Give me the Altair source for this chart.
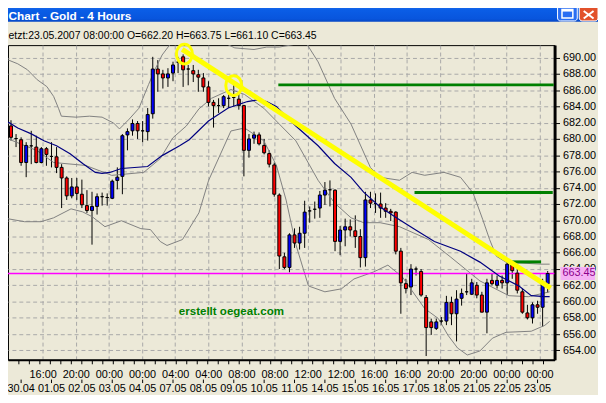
import altair as alt
import pandas as pd

# ---------------- data ----------------
opens = [681.6, 680.05, 679.9, 677.1, 679.15, 679.0, 677.1, 678.8, 677.85, 677.8,
         676.5, 675.2, 673.0, 674.1, 673.2, 671.8, 671.2, 671.7, 672.9, 672.8,
         672.7, 674.9, 675.4, 680.5, 681.0, 681.9, 681.0, 680.9, 683.1, 688.6,
         688.0, 687.5, 688.1, 689.45, 690.1, 688.6, 688.4, 687.9, 687.5, 686.4,
         684.5, 684.1, 684.1, 685.0, 685.1, 684.9, 684.1, 678.6, 680.1, 680.5,
         679.2, 678.2, 676.8, 673.1, 665.5, 664.2, 668.2, 667.2, 668.4, 671.15,
         671.35, 671.5, 673.1, 673.75, 673.7, 667.4, 668.8, 669.2, 668.7, 668.0,
         665.4, 672.5, 672.05, 672.0, 671.5, 671.1, 671.0, 666.2, 662.2, 661.8,
         664.0, 663.7, 660.5, 657.5, 656.7, 657.6, 657.6, 659.9, 658.5, 660.4,
         661.2, 660.9, 662.0, 660.8, 658.7, 662.6, 662.0, 662.6, 662.3, 664.5,
         663.5, 661.2, 658.6, 658.0, 659.6, 659.3, 662.2]
closes = [680.2, 680.05, 677.1, 679.2, 679.15, 677.1, 678.8, 678.1, 677.85, 676.5,
          675.2, 673.0, 674.1, 673.3, 671.9, 671.2, 671.7, 672.9, 672.9, 672.8,
          674.8, 675.3, 680.4, 680.9, 681.9, 681.0, 681.0, 683.0, 688.6, 688.0,
          687.5, 688.0, 689.1, 689.45, 688.5, 688.6, 688.0, 687.6, 686.4, 684.5,
          684.1, 684.1, 685.2, 685.0, 685.1, 684.1, 678.6, 680.0, 680.5, 679.4,
          678.3, 676.9, 673.2, 665.6, 664.2, 668.2, 667.2, 668.4, 671.0, 671.15,
          671.35, 673.1, 673.7, 673.75, 667.4, 668.8, 669.2, 668.8, 668.0, 665.4,
          672.5, 672.1, 672.05, 671.5, 671.1, 670.9, 666.2, 662.3, 661.6, 664.0,
          664.0, 660.8, 656.8, 656.8, 657.5, 657.6, 659.9, 658.5, 660.3, 661.0,
          661.2, 662.3, 660.8, 658.7, 662.3, 662.2, 662.6, 662.3, 664.6, 663.8,
          661.4, 658.7, 658.0, 659.6, 659.3, 662.4, 663.45]
highs = [682.3, 680.6, 680.2, 679.6, 681.0, 680.4, 679.0, 679.0, 679.6, 679.0,
         676.9, 675.4, 675.2, 675.2, 675.0, 673.7, 673.5, 673.3, 673.4, 673.3,
         675.0, 676.5, 680.6, 681.3, 682.4, 682.2, 682.2, 683.8, 690.1, 689.7,
         688.5, 688.7, 689.5, 690.1, 690.4, 689.1, 689.1, 688.5, 688.1, 687.1,
         684.8, 685.0, 685.4, 685.8, 686.6, 685.6, 684.2, 680.6, 680.9, 680.8,
         680.0, 678.6, 677.1, 673.3, 666.0, 668.4, 669.0, 669.2, 672.4, 671.7,
         672.3, 673.6, 674.7, 674.9, 673.8, 669.3, 670.2, 670.1, 670.6, 668.9,
         673.5, 673.5, 673.3, 673.4, 672.1, 671.4, 671.1, 666.6, 662.8, 664.6,
         664.3, 664.0, 660.8, 657.9, 657.9, 658.1, 660.7, 660.6, 661.4, 661.6,
         663.4, 662.8, 662.4, 661.2, 662.8, 663.4, 663.2, 663.2, 665.0, 664.8,
         664.0, 661.6, 659.6, 659.9, 660.1, 662.8, 663.75]
lows = [679.8, 679.0, 676.7, 675.3, 676.9, 677.0, 677.0, 676.7, 676.5, 675.8,
        671.5, 672.5, 672.7, 672.5, 671.5, 670.9, 667.0, 670.7, 671.8, 671.8,
        672.6, 673.8, 673.2, 678.6, 680.4, 680.0, 679.6, 679.8, 682.5, 685.8,
        686.2, 686.4, 687.1, 688.1, 686.4, 686.6, 687.0, 685.8, 685.8, 684.0,
        681.4, 683.2, 683.8, 683.8, 684.0, 683.6, 675.4, 677.7, 679.4, 679.2,
        678.1, 676.5, 672.9, 664.0, 664.0, 663.6, 666.6, 666.4, 666.6, 669.7,
        670.2, 670.3, 671.9, 671.7, 666.2, 665.7, 666.8, 668.0, 666.6, 664.2,
        664.3, 671.5, 670.9, 670.3, 670.3, 669.9, 665.8, 658.5, 661.0, 660.8,
        663.2, 660.6, 653.3, 655.9, 656.5, 657.1, 657.1, 657.1, 655.1, 659.5,
        660.8, 660.8, 660.4, 658.7, 656.1, 662.0, 661.6, 661.6, 660.8, 662.8,
        661.0, 658.5, 657.8, 657.3, 658.5, 656.9, 661.1]

# moving average (blue) read at sample bars
ma_i = [-0.57, 1.34, 4.02, 6.51, 8.99, 11.67, 14.16, 16.65, 17.99, 19.52, 21.81, 26.98,
        29.85, 33.3, 35.2, 39.0, 42.9, 46.7, 48.6, 50.5, 52.4, 54.3, 56.26, 60.66, 63.91,
        67.16, 69.65, 72.9, 76.73, 79.79, 83.62, 88.79, 92.61, 96.44, 100.27, 102.76,
        105.44, 106.39]
ma_v = [682.08, 681.35, 680.62, 679.77, 679.16, 678.19, 676.97, 675.88, 675.76, 675.88,
        676.37, 676.61, 677.95, 679.16, 679.9, 682.2, 683.8, 684.6, 684.8, 684.6, 684.0,
        682.8, 681.59, 679.16, 676.98, 675.28, 673.46, 671.64, 670.06, 668.85, 667.39,
        666.18, 664.85, 663.15, 661.93, 660.72, 660.6, 660.6]

# Bollinger bands (gray) read at sample bars
up_i = [-0.57, 1.34, 3.25, 5.17, 7.08, 8.42, 9.38, 9.95, 12.82, 15.5, 17.99, 20.28, 21.43,
        23.35, 25.26, 27.17, 28.51, 29.85, 31.76, 34.0, 37.0, 40.0, 42.5, 44.2, 48.0, 50.5,
        53.0, 55.7, 58.2, 60.66, 63.91, 67.16, 70.99, 72.9, 76.73, 79.22, 81.71, 85.53,
        88.79, 91.27, 93.19, 94.53, 95.87, 97.78, 104.67, 106.39]
up_v = [689.72, 689.24, 688.51, 687.29, 686.44, 685.23, 683.77, 682.80, 682.68, 682.80,
        682.68, 681.95, 681.23, 682.44, 683.77, 686.69, 688.63, 690.33, 691.91, 694.0,
        694.5, 693.0, 691.7, 691.2, 691.0, 691.3, 691.3, 691.6, 691.9, 689.48, 684.99,
        681.83, 676.49, 675.28, 674.92, 675.89, 675.53, 675.89, 675.28, 673.34, 670.06,
        667.63, 665.57, 664.84, 664.6, 664.6]
mid_i = [-0.57, 5.17, 8.42, 14.73, 19.9, 26.22, 29.47, 31.96, 34.63, 37.12, 39.61, 43.44,
         46.12, 49.94, 53.0, 56.26, 60.66, 63.91, 67.16, 69.65, 72.9, 76.73, 82.47, 86.87,
         92.61, 98.35, 102.18, 106.39]
mid_v = [680.01, 678.56, 677.10, 676.74, 675.52, 675.89, 677.58, 680.13, 681.6, 683.7,
         685.0, 686.08, 685.47, 683.77, 681.83, 679.77, 674.91, 672.12, 670.30, 669.70,
         669.70, 669.21, 667.63, 665.45, 662.54, 660.72, 660.60, 661.20]
lo_i = [-0.57, 2.68, 5.93, 8.42, 11.86, 14.16, 16.07, 18.56, 21.81, 25.64, 27.55, 29.47,
        30.81, 33.87, 37.12, 39.04, 43.44, 46.12, 49.94, 52.43, 54.34, 56.26, 58.75, 62.0,
        65.25, 67.74, 71.57, 74.44, 77.31, 79.22, 81.71, 84.39, 86.3, 88.21, 90.13, 92.61,
        95.1, 97.78, 102.76, 105.44, 106.39]
lo_v = [670.18, 669.82, 669.82, 670.30, 671.40, 671.03, 670.42, 669.21, 669.94, 668.97,
        668.85, 667.39, 666.90, 667.63, 670.91, 674.92, 680.98, 681.35, 679.77, 676.73,
        672.48, 667.02, 661.92, 661.20, 661.56, 662.78, 663.63, 664.48, 663.02, 661.32,
        659.14, 657.92, 655.86, 654.28, 653.43, 653.92, 655.50, 656.22, 656.35, 657.08,
        657.56]

price_ticks = list(range(654, 691, 2))
time_labels = ["16:00", "20:00", "00:00", "00:00", "04:00", "04:00", "08:00", "08:00",
               "12:00", "12:00", "16:00", "16:00", "20:00", "20:00", "00:00", "00:00"]
date_labels = ["30.04", "01.05", "02.05", "03.05", "04.05", "07.05", "08.05", "09.05",
               "10.05", "11.05", "14.05", "15.05", "16.05", "17.05", "18.05", "21.05",
               "22.05", "23.05"]
date_bars = [2, 8, 14, 20, 26, 32, 38, 44, 50, 56, 62, 68, 74, 80, 86, 92, 98, 104]
last_price = 663.45
level_v = [686.65, 673.42, 664.88]
level_from = [52.8, 79.7, 98.8]
level_to = [107.2, 107.0, 104.7]
trend_i = [33.81, 106.58]
trend_v = [691.02, 661.65]
circle_i = [34.25, 44.0]
circle_v = [690.44, 686.57]
note_text = "erstellt oegeat.com"
note_i, note_v = 43.53, 658.83
info_text = "etzt:23.05.2007 08:00:00 O=662.20 H=663.75 L=661.10 C=663.45"
title_text = "Chart - Gold - 4 Hours"

# ---------------- layout / style ----------------
W, H = 554, 319
FONT = "Liberation Sans"
BG = "#ECE9D8"
GRID = "#A8A8A8"
G0, GS = -0.29, 6.543
grid_pos = [round(G0 + GS * k, 3) for k in range(1, 17)]
minor_pos = [round(-0.517 + 2.0724 * m, 3) for m in range(0, 53)]
minor_pos = [p for p in minor_pos if 0.4 <= p <= 106.3]

xs = alt.Scale(domain=[0.383, 106.39], nice=False, zero=False)
ys = alt.Scale(domain=[652.83, 691.54], nice=False, zero=False)

label_js = "[" + ",".join("'" + t + "'" for t in time_labels) + "]"
x_axis = alt.Axis(orient="bottom", values=grid_pos,
                  labelExpr=f"{label_js}[round((datum.value - ({G0})) / {GS}) - 1]",
                  grid=True, gridColor=GRID, gridDash=[4, 3], gridWidth=1,
                  ticks=False, tickSize=0, domain=True, domainColor="black", domainWidth=2,
                  labelFont=FONT, labelFontSize=11, labelColor="black", labelPadding=9,
                  labelFlush=False, labelOverlap=False, title=None)
y_axis = alt.Axis(orient="right", values=price_ticks, format=".2f",
                  grid=True, gridColor=GRID, gridDash=[4, 3], gridWidth=1,
                  tickSize=5, tickColor="black", domainColor="black", domainWidth=3,
                  labelFont=FONT, labelFontSize=11, labelColor="black", labelPadding=3,
                  labelFlush=False, labelOverlap=False, title=None)


def X(f="i"):
    return alt.X(f"{f}:Q", scale=xs, axis=x_axis, title=None)


def Y(f):
    return alt.Y(f"{f}:Q", scale=ys, axis=y_axis, title=None)


cd = pd.DataFrame({"i": list(range(len(opens))), "o": opens, "h": highs, "l": lows, "c": closes})
cd["dir"] = ["up" if c > o else ("down" if c < o else "flat") for o, c in zip(opens, closes)]

one = pd.DataFrame({"a": [0]})

# ---------------- layers ----------------
wicks = alt.Chart(cd).mark_rule(color="black", strokeWidth=1, clip=True).encode(
    x=X(), y=Y("l"), y2="h:Q")

bodies = alt.Chart(cd).mark_bar(width=3, stroke="black", strokeWidth=1, clip=True,
                                orient="vertical").encode(
    x=X(), y=Y("o"), y2="c:Q",
    fill=alt.Fill("dir:N", scale=alt.Scale(domain=["up", "down", "flat"],
                                           range=["#0000FF", "#FF0000", "#000000"]),
                  legend=None))


def line_layer(ix, vals, color, width):
    return alt.Chart(pd.DataFrame({"i": ix, "v": vals})).mark_line(
        color=color, strokeWidth=width, clip=True).encode(x=X(), y=Y("v"))


band_up = line_layer(up_i, up_v, "#808080", 1)
band_mid = line_layer(mid_i, mid_v, "#808080", 1)
band_lo = line_layer(lo_i, lo_v, "#808080", 1)
ma = line_layer(ma_i, ma_v, "#000080", 1.2)

bid = alt.Chart(pd.DataFrame({"v": [last_price]})).mark_rule(
    color="#FF00FF", strokeWidth=1.5, clip=True).encode(y=Y("v"))

levels = alt.Chart(pd.DataFrame({"a": level_from, "b": level_to, "v": level_v})).mark_rule(
    color="#008000", strokeWidth=3).encode(x=X("a"), x2="b:Q", y=Y("v"))

trend = alt.Chart(pd.DataFrame({"a": [trend_i[0]], "b": [trend_i[1]],
                                "p": [trend_v[0]], "q": [trend_v[1]]})).mark_rule(
    color="#FFFF00", strokeWidth=5, clip=True).encode(x=X("a"), x2="b:Q", y=Y("p"), y2="q:Q")

ellipse = "M-0.81,0A0.81,1,0,1,0,0.81,0A0.81,1,0,1,0,-0.81,0Z"
circles = alt.Chart(pd.DataFrame({"i": circle_i, "v": circle_v})).mark_point(
    shape=ellipse, size=400, filled=False, stroke="#FFFF00", strokeWidth=3,
    opacity=1).encode(x=X(), y=Y("v"))

note = alt.Chart(pd.DataFrame({"i": [note_i], "v": [note_v], "t": [note_text]})).mark_text(
    font=FONT, fontSize=11.7, fontWeight="bold", color="#008000",
    align="center", baseline="middle").encode(x=X(), y=Y("v"), text="t:N")

box_path = "M-2.63,-1L2.63,-1L2.63,1L-2.63,1Z"
price_box = alt.Chart(pd.DataFrame({"v": [last_price]})).mark_point(
    shape=box_path, size=177, filled=True, fill="#F5B0F5", strokeWidth=0, opacity=1).encode(
    x=alt.value(W + 23.5), y=Y("v"))
price_txt = alt.Chart(pd.DataFrame({"v": [last_price], "t": [f"{last_price:.2f}"]})).mark_text(
    font=FONT, fontSize=11, color="#8B008B", align="left", baseline="middle").encode(
    x=alt.value(W + 8), y=Y("v"), text="t:N")

dates = alt.Chart(pd.DataFrame({"i": date_bars, "t": date_labels})).mark_text(
    font=FONT, fontSize=11, color="black", align="center", baseline="top").encode(
    x=X(), y=alt.value(H + 24), text="t:N")
date_ticks = alt.Chart(pd.DataFrame({"i": date_bars})).mark_rule(
    color="black", strokeWidth=1).encode(x=X(), y=alt.value(H + 20), y2=alt.value(H + 23.5))
minor_ticks = alt.Chart(pd.DataFrame({"i": minor_pos})).mark_rule(
    color="black", strokeWidth=1).encode(x=X(), y=alt.value(H + 1), y2=alt.value(H + 4.5))

# window chrome
title_bar = alt.Chart(one).mark_rect(
    color=alt.LinearGradient(gradient="linear", x1=0, x2=0, y1=0, y2=1, stops=[
        alt.GradientStop(offset=0, color="#5AA0FA"),
        alt.GradientStop(offset=0.12, color="#1F6FF0"),
        alt.GradientStop(offset=0.4, color="#0A5DE6"),
        alt.GradientStop(offset=0.85, color="#0855DD"),
        alt.GradientStop(offset=1, color="#0646C4")])).encode(
    x=alt.value(-8), x2=alt.value(600), y=alt.value(-43), y2=alt.value(-23.7))
title = alt.Chart(one).mark_text(
    text=title_text, font=FONT, fontSize=12, fontWeight="bold", color="white",
    align="left", baseline="middle").encode(x=alt.value(0.5), y=alt.value(-29.3))
max_btn = alt.Chart(one).mark_rect(fill="#2A6EF2", stroke="white", strokeWidth=1,
                                   cornerRadius=3).encode(
    x=alt.value(557), x2=alt.value(577), y=alt.value(-42), y2=alt.value(-24.5))
max_in = alt.Chart(one).mark_rect(fill="#2A6EF2", stroke="white", strokeWidth=1.5).encode(
    x=alt.value(561.5), x2=alt.value(572.5), y=alt.value(-36), y2=alt.value(-27.5))
max_top = alt.Chart(one).mark_rect(fill="white").encode(
    x=alt.value(561.5), x2=alt.value(572.5), y=alt.value(-36), y2=alt.value(-34))
close_btn = alt.Chart(one).mark_rect(fill="#E2512B", stroke="white", strokeWidth=1,
                                     cornerRadius=3).encode(
    x=alt.value(579), x2=alt.value(598), y=alt.value(-42), y2=alt.value(-24.5))
x1 = alt.Chart(one).mark_rule(color="white", strokeWidth=2).encode(
    x=alt.value(583.5), x2=alt.value(593.5), y=alt.value(-34.5), y2=alt.value(-27))
x2 = alt.Chart(one).mark_rule(color="white", strokeWidth=2).encode(
    x=alt.value(583.5), x2=alt.value(593.5), y=alt.value(-27), y2=alt.value(-34.5))
info = alt.Chart(one).mark_text(
    text=info_text, font=FONT, fontSize=10.6, color="black",
    align="left", baseline="middle").encode(x=alt.value(0.5), y=alt.value(-9.5))

chart = alt.layer(
    wicks, band_up, band_mid, band_lo, bid, bodies, ma, levels, trend, circles, note,
    price_box, price_txt, dates, date_ticks, minor_ticks,
    title_bar, title, max_btn, max_in, max_top, close_btn, x1, x2, info
).properties(
    width=W, height=H,
    autosize=alt.AutoSizeParams(type="none"),
    padding={"left": 0, "top": 35, "right": 44, "bottom": 33},
    background=BG,
).configure_view(fill=BG, stroke="black", strokeWidth=1)

chart.save("out.html", embed_options={"renderer": "svg", "actions": False})
